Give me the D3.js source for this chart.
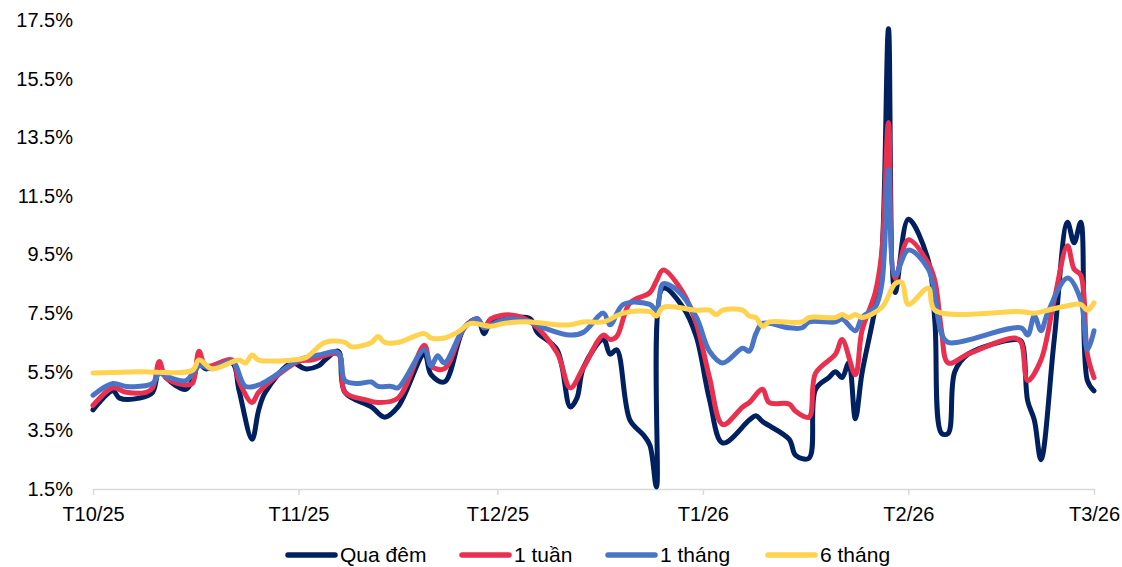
<!DOCTYPE html>
<html>
<head>
<meta charset="utf-8">
<script src="https://cdn.jsdelivr.net/npm/d3@7"></script>
<style>
  html, body { margin: 0; padding: 0; background: #fff; }
  svg text { font-family: Arial, "Liberation Sans", sans-serif; fill: #000; }
</style>
</head>
<body>
<svg id="chart" width="1122" height="567"></svg>
<script>
// ---- Data (values in %) ----
const quaDem = [
  ["2025-10-01",4.2],["2025-10-04",4.85],["2025-10-05",4.6],["2025-10-08",4.6],["2025-10-10",4.8],
  ["2025-10-11",5.7],["2025-10-12",5.3],["2025-10-15",4.9],["2025-10-16",5.2],["2025-10-17",5.8],
  ["2025-10-18",5.6],["2025-10-22",5.8],["2025-10-23",4.9],["2025-10-25",3.2],["2025-10-26",4.2],
  ["2025-10-27",4.8],["2025-10-31",5.8],["2025-11-02",5.6],["2025-11-04",5.7],["2025-11-05",5.9],
  ["2025-11-07",6.2],["2025-11-08",4.8],["2025-11-12",4.3],["2025-11-14",3.95],["2025-11-16",4.3],
  ["2025-11-20",6.1],["2025-11-21",5.4],["2025-11-23",5.15],["2025-11-26",7.0],["2025-11-28",7.3],
  ["2025-11-29",6.8],["2025-11-30",7.2],["2025-12-03",7.35],["2025-12-06",7.3],["2025-12-07",6.85],
  ["2025-12-10",6.25],["2025-12-12",4.3],["2025-12-13",4.6],["2025-12-14",5.65],["2025-12-17",6.6],
  ["2025-12-18",6.1],["2025-12-19",6.25],["2025-12-21",3.85],["2025-12-23",3.35],["2025-12-24",3.0],
  ["2025-12-25",1.57],["2025-12-26",8.35],["2025-12-29",7.7],["2025-12-31",6.7],["2026-01-02",4.55],
  ["2026-01-04",3.07],["2026-01-08",3.85],["2026-01-09",4.0],["2026-01-10",3.8],["2026-01-14",3.2],
  ["2026-01-15",2.65],["2026-01-17",2.55],["2026-01-18",4.9],["2026-01-20",5.3],["2026-01-21",5.5],
  ["2026-01-22",5.3],["2026-01-23",5.8],["2026-01-24",3.9],["2026-01-25",5.45],["2026-01-27",7.7],
  ["2026-01-28",9.5],["2026-01-29",17.2],["2026-01-30",8.2],["2026-02-01",10.7],["2026-02-04",9.3],
  ["2026-02-05",7.2],["2026-02-06",3.4],["2026-02-07",3.4],["2026-02-08",5.5],["2026-02-10",6.1],
  ["2026-02-17",6.6],["2026-02-18",6.55],["2026-02-19",4.5],["2026-02-20",3.85],["2026-02-21",2.5],
  ["2026-02-23",6.6],["2026-02-25",10.6],["2026-02-26",9.9],["2026-02-27",10.6],["2026-02-28",5.2],
  ["2026-03-01",4.85]
];
const motTuan = [
  ["2025-10-01",4.35],["2025-10-04",4.95],["2025-10-06",4.8],["2025-10-09",4.8],["2025-10-10",4.95],
  ["2025-10-11",5.85],["2025-10-12",5.3],["2025-10-15",5.05],["2025-10-16",5.1],["2025-10-17",6.2],
  ["2025-10-18",5.7],["2025-10-22",5.9],["2025-10-23",5.2],["2025-10-25",4.45],["2025-10-26",4.8],
  ["2025-11-01",5.85],["2025-11-03",5.9],["2025-11-07",6.1],["2025-11-08",4.8],["2025-11-11",4.55],
  ["2025-11-13",4.45],["2025-11-16",4.6],["2025-11-20",6.4],["2025-11-21",5.7],["2025-11-23",5.6],
  ["2025-11-26",7.0],["2025-11-28",7.3],["2025-11-29",7.0],["2025-11-30",7.3],["2025-12-03",7.44],
  ["2025-12-06",7.2],["2025-12-10",6.15],["2025-12-12",4.95],["2025-12-14",5.65],["2025-12-17",6.75],
  ["2025-12-18",6.6],["2025-12-19",6.7],["2025-12-21",7.85],["2025-12-24",8.2],["2025-12-25",8.6],
  ["2025-12-26",8.97],["2025-12-29",8.2],["2025-12-31",7.15],["2026-01-02",5.3],["2026-01-04",3.7],
  ["2026-01-07",4.3],["2026-01-08",4.45],["2026-01-10",4.9],["2026-01-11",4.45],["2026-01-14",4.4],
  ["2026-01-15",4.15],["2026-01-17",3.95],["2026-01-18",5.45],["2026-01-21",6.1],["2026-01-22",6.6],
  ["2026-01-24",5.4],["2026-01-25",6.9],["2026-01-27",8.2],["2026-01-28",9.6],["2026-01-29",14.0],
  ["2026-01-30",8.7],["2026-02-01",10.0],["2026-02-04",9.2],["2026-02-05",8.6],["2026-02-06",6.9],
  ["2026-02-07",5.8],["2026-02-10",6.1],["2026-02-17",6.65],["2026-02-18",6.5],["2026-02-19",5.2],
  ["2026-02-21",5.9],["2026-02-23",7.95],["2026-02-25",9.8],["2026-02-26",9.0],["2026-02-27",8.8],
  ["2026-02-28",6.1],["2026-03-01",5.3]
];
const motThang = [
  ["2025-10-01",4.7],["2025-10-04",5.1],["2025-10-06",5.0],["2025-10-10",5.1],["2025-10-11",5.45],
  ["2025-10-12",5.35],["2025-10-15",5.2],["2025-10-17",5.7],["2025-10-19",5.6],["2025-10-22",5.85],
  ["2025-10-24",5.0],["2025-10-26",5.05],["2025-10-28",5.3],["2025-11-01",5.9],["2025-11-04",6.07],
  ["2025-11-07",6.15],["2025-11-08",5.2],["2025-11-10",5.1],["2025-11-12",5.15],["2025-11-13",5.0],
  ["2025-11-15",5.0],["2025-11-16",4.95],["2025-11-20",6.25],["2025-11-21",5.7],["2025-11-22",6.05],
  ["2025-11-23",5.8],["2025-11-26",7.0],["2025-11-28",7.3],["2025-11-29",7.0],["2025-12-01",7.2],
  ["2025-12-03",7.3],["2025-12-06",7.2],["2025-12-08",7.0],["2025-12-12",6.75],["2025-12-14",6.85],
  ["2025-12-17",7.5],["2025-12-18",7.1],["2025-12-20",7.8],["2025-12-24",7.8],["2025-12-25",7.6],
  ["2025-12-26",8.5],["2025-12-28",8.3],["2025-12-31",7.37],["2026-01-02",6.2],["2026-01-04",5.8],
  ["2026-01-07",6.3],["2026-01-08",6.2],["2026-01-09",6.8],["2026-01-10",7.15],["2026-01-14",7.0],
  ["2026-01-16",7.0],["2026-01-17",7.2],["2026-01-21",7.2],["2026-01-22",7.3],["2026-01-24",6.9],
  ["2026-01-25",7.35],["2026-01-27",7.7],["2026-01-28",8.5],["2026-01-29",12.4],["2026-01-30",8.8],
  ["2026-02-01",9.65],["2026-02-04",9.0],["2026-02-06",6.8],["2026-02-07",6.5],["2026-02-18",7.0],
  ["2026-02-19",6.75],["2026-02-20",7.4],["2026-02-21",6.9],["2026-02-22",7.5],["2026-02-25",8.7],
  ["2026-02-27",7.95],["2026-02-28",6.25],["2026-03-01",6.9]
];
const sauThang = [
  ["2025-10-01",5.46],["2025-10-08",5.5],["2025-10-16",5.55],["2025-10-17",5.9],["2025-10-19",5.6],
  ["2025-10-23",5.9],["2025-10-24",5.8],["2025-10-25",6.07],["2025-10-26",5.9],["2025-10-31",5.9],
  ["2025-11-02",5.97],["2025-11-05",6.5],["2025-11-08",6.5],["2025-11-09",6.35],["2025-11-12",6.5],
  ["2025-11-13",6.7],["2025-11-14",6.5],["2025-11-16",6.5],["2025-11-20",6.8],["2025-11-21",6.65],
  ["2025-11-23",6.65],["2025-11-25",6.85],["2025-11-27",7.15],["2025-11-30",7.05],["2025-12-02",7.15],
  ["2025-12-06",7.2],["2025-12-10",7.1],["2025-12-12",7.1],["2025-12-14",7.2],["2025-12-17",7.2],
  ["2025-12-20",7.5],["2025-12-24",7.55],["2025-12-25",7.4],["2025-12-26",7.7],["2025-12-31",7.6],
  ["2026-01-02",7.6],["2026-01-03",7.45],["2026-01-04",7.6],["2026-01-07",7.6],["2026-01-08",7.4],
  ["2026-01-09",7.35],["2026-01-10",7.05],["2026-01-11",7.2],["2026-01-16",7.2],["2026-01-17",7.35],
  ["2026-01-21",7.35],["2026-01-22",7.45],["2026-01-23",7.35],["2026-01-24",7.45],["2026-01-25",7.35],
  ["2026-01-28",7.7],["2026-01-30",8.5],["2026-01-31",8.55],["2026-02-01",7.8],["2026-02-04",8.35],
  ["2026-02-05",7.6],["2026-02-18",7.55],["2026-02-20",7.5],["2026-02-22",7.6],["2026-02-25",7.75],
  ["2026-02-27",7.8],["2026-02-28",7.6],["2026-03-01",7.85]
];
const seriesNames = ["Qua đêm", "1 tuần", "1 tháng", "6 tháng"];
const seriesColors = ["#002060", "#E9304E", "#4A75C6", "#FFD34F"];
const yTicks = [1.5, 3.5, 5.5, 7.5, 9.5, 11.5, 13.5, 15.5, 17.5];
const xTickDates = ["2025-10-01","2025-11-01","2025-12-01","2026-01-01","2026-02-01","2026-03-01"];
const xTickLabels = ["T10/25","T11/25","T12/25","T1/26","T2/26","T3/26"];

// ---- Chart ----
(function () {
const parse = d3.timeParse("%Y-%m-%d");
const svg = d3.select("#chart");
const padL = 93, padR = 1094, padT = 20, padB = 489;

const x = d3.scaleTime()
  .domain([parse("2025-10-01"), parse("2026-03-01")])
  .range([padL, padR]);
const y = d3.scaleLinear().domain([1.5, 17.5]).range([padB, padT]);

// y axis labels
const yAxis = d3.axisLeft(y).tickValues(yTicks).tickSize(0).tickPadding(20)
  .tickFormat(d => d.toFixed(1) + "%");
const gy = svg.append("g").attr("transform", `translate(${padL},0)`).call(yAxis);
gy.select(".domain").remove();
gy.selectAll("text").style("font-size", "20px").attr("fill", "#000");

// x axis
const xTickVals = xTickDates.map(parse);
const xAxis = d3.axisBottom(x).tickValues(xTickVals).tickSize(6).tickSizeOuter(0).tickPadding(12)
  .tickFormat((d, i) => xTickLabels[i]);
const gx = svg.append("g").attr("transform", `translate(0,${padB})`).call(xAxis);
gx.select(".domain").attr("stroke", "#d9d9d9").attr("stroke-width", 1.5);
gx.selectAll(".tick line").attr("stroke", "#d9d9d9").attr("stroke-width", 1.5);
gx.selectAll("text").style("font-size", "20px").attr("fill", "#000");

// lines
const line = d3.line()
  .x(d => x(parse(d[0])))
  .y(d => y(d[1]))
  .curve(d3.curveCatmullRom.alpha(0.5));

const allSeries = [quaDem, motTuan, motThang, sauThang];
allSeries.forEach((s, i) => {
  svg.append("path")
    .datum(s)
    .attr("fill", "none")
    .attr("stroke", seriesColors[i])
    .attr("stroke-width", 5)
    .attr("stroke-linejoin", "round")
    .attr("stroke-linecap", "round")
    .attr("d", line);
});

// legend
const legendX = [288, 462, 608, 768];
const legendY = 555;
const lg = svg.append("g");
seriesNames.forEach((name, i) => {
  lg.append("line")
    .attr("x1", legendX[i]).attr("x2", legendX[i] + 47)
    .attr("y1", legendY).attr("y2", legendY)
    .attr("stroke", seriesColors[i]).attr("stroke-width", 5.5)
    .attr("stroke-linecap", "round");
  lg.append("text")
    .attr("x", legendX[i] + 52).attr("y", legendY + 7)
    .style("font-size", "21px")
    .text(name);
});
})();
</script>
</body>
</html>
